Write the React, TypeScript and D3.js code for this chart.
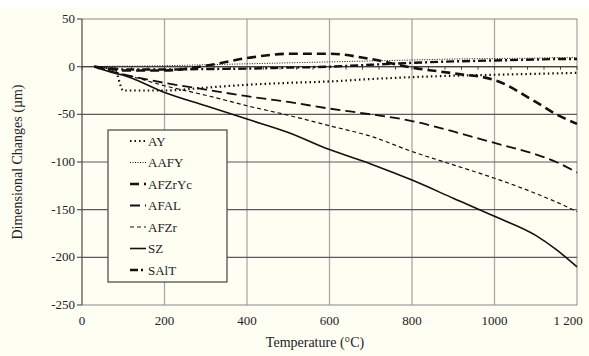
import React from "react"
import * as d3 from "d3"

const temps = [30, 80, 100, 200, 300, 400, 500, 600, 700, 800, 900, 1000, 1100, 1150, 1200]

const AY = [0, -4, -25, -25, -22, -19, -17, -15.5, -13, -11, -9.5, -8.5, -7.5, -7, -6.5]
const AAFY = [0, 0.5, 0.5, 1, 2, 3, 4, 5, 6, 7, 8, 8.5, 9, 9.5, 9.5]
const AFZrYc = [0, -3, -4, -4, 1, 9, 13.5, 13.5, 8, -1, -7, -14, -37, -50, -60]
const AFAL = [0, -6, -8, -17, -24, -31, -37, -44, -50, -57, -68, -80, -92, -100, -111]
const AFZr = [0, -6, -8, -20, -30, -41, -51, -62, -73, -89, -103, -117, -133, -142, -152]
const SZ = [0, -7, -9, -27, -41, -55, -69, -87, -102, -119, -138, -157, -177, -192, -210]
const SAlT = [0, -2, -3, -3, -2.5, -2, -1, 0, 2, 4, 5.5, 6.5, 7.5, 8, 8]

const series = [
  { name: "AY", values: AY, width: 2.2, dash: "1.5,3" },
  { name: "AAFY", values: AAFY, width: 1, dash: "1,1.5" },
  { name: "AFZrYc", values: AFZrYc, width: 2.6, dash: "9,5" },
  { name: "AFAL", values: AFAL, width: 1.8, dash: "10,5" },
  { name: "AFZr", values: AFZr, width: 1.2, dash: "4,3" },
  { name: "SZ", values: SZ, width: 1.6, dash: null },
  { name: "SAlT", values: SAlT, width: 2.4, dash: "8,3,2,3" },
]

const xTicks = [0, 200, 400, 600, 800, 1000, 1200]
const yTicks = [50, 0, -50, -100, -150, -200, -250]

const W = 589
const H = 356
const left = 82, right = 577, top = 19, bottom = 305
const font = "Liberation Serif, Times New Roman, DejaVu Serif, serif"
const txt = { fontFamily: font, fontSize: 13, fill: "#222" }
const title = { ...txt, fontSize: 14 }

export default function App() {
  const x = d3.scaleLinear().domain([0, 1200]).range([left, right])
  const y = d3.scaleLinear().domain([-250, 50]).range([bottom, top])

  const line = d3.line<[number, number]>()
    .x(d => x(d[0]))
    .y(d => y(d[1]))
    .curve(d3.curveMonotoneX)

  const minor = d3.range(0, 1201, 40)

  return (
    <svg width={W} height={H} style={{ position: "absolute", left: 0, top: 0, background: "#fefef3" }}>
      <rect x={0} y={0} width={W} height={8} fill="#ffffff" />

      {/* vertical grid */}
      {xTicks.slice(1).map(t => (
        <line key={"vx" + t} x1={x(t)} x2={x(t)} y1={top} y2={bottom} stroke="#a8a8a8" strokeWidth={1.3} />
      ))}
      {/* horizontal grid */}
      {yTicks.map(t => (
        <line key={"hy" + t} x1={left} x2={right} y1={y(t)} y2={y(t)}
          stroke={t === -250 || t === 50 ? "#8a8a8a" : "#5a5a5a"} strokeWidth={1.2} />
      ))}

      {/* y axis */}
      <line x1={left} x2={left} y1={top} y2={bottom} stroke="#555" strokeWidth={1.3} />
      {yTicks.map(t => (
        <g key={"yt" + t}>
          <line x1={left - 5} x2={left} y1={y(t)} y2={y(t)} stroke="#555" strokeWidth={1.2} />
          <text x={left - 7} y={y(t) + 4} textAnchor="end" style={txt}>{t}</text>
        </g>
      ))}

      {/* x axis crossing at zero with minor ticks */}
      <line x1={left} x2={right} y1={y(0)} y2={y(0)} stroke="#444" strokeWidth={1.4} />
      {minor.map(t => (
        <line key={"mt" + t} x1={x(t)} x2={x(t)} y1={y(0)} y2={y(0) + 3} stroke="#444" strokeWidth={1} />
      ))}
      {xTicks.map(t => (
        <text key={"xt" + t} x={t === 1200 ? x(t) - 9 : x(t)} y={bottom + 20} textAnchor="middle" style={txt}>
          {t === 1200 ? "1 200" : t}
        </text>
      ))}

      {/* series */}
      {series.map(s => (
        <path key={s.name}
          d={line(temps.map((t, i) => [t, s.values[i]] as [number, number])) || ""}
          fill="none" stroke="#111" strokeWidth={s.width}
          strokeDasharray={s.dash || undefined} />
      ))}

      {/* legend */}
      <rect x={108} y={130} width={119} height={152} fill="#fefef3" stroke="#444" strokeWidth={1.2} />
      {series.map((s, i) => {
        const cy = 141 + i * 21.5
        return (
          <g key={"lg" + s.name}>
            <line x1={130} x2={146} y1={cy} y2={cy} stroke="#111" strokeWidth={s.width}
              strokeDasharray={s.dash || undefined} />
            <text x={148} y={cy + 4.5} style={txt}>{s.name}</text>
          </g>
        )
      })}

      <text x={315} y={347} textAnchor="middle" style={title}>Temperature (°C)</text>
      <text transform={`translate(22,${(top + bottom) / 2}) rotate(-90)`} textAnchor="middle" style={title}>
        Dimensional Changes (µm)
      </text>
    </svg>
  )
}
